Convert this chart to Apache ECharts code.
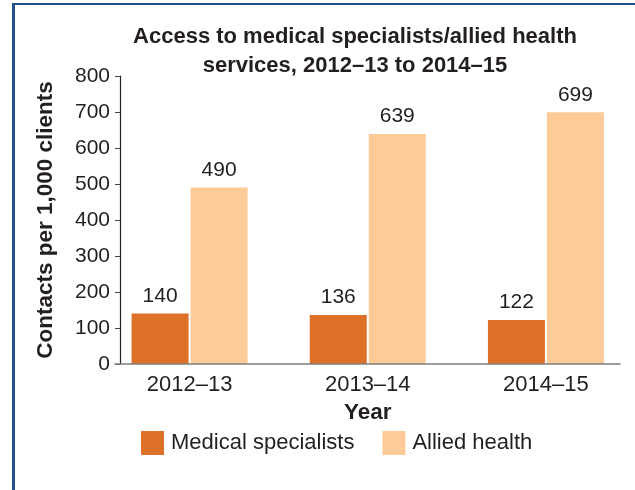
<!DOCTYPE html>
<html>
<head>
<meta charset="utf-8">
<script src="https://cdn.jsdelivr.net/npm/echarts@6/dist/echarts.min.js"></script>
<style>
  html, body { margin: 0; padding: 0; background: #ffffff; }
  #chart { width: 635px; height: 490px; }
</style>
</head>
<body>
<div id="chart"></div>
<script>
const years = ['2012–13', '2013–14', '2014–15'];
const medicalSpecialists = [140, 136, 122];
const alliedHealth = [490, 639, 699];
const yTicks = { min: 0, max: 800, interval: 100 };

const FONT = '"Liberation Sans", Arial, sans-serif';
const INK = '#231f20';
const DARK_ORANGE = '#dd7128';
const LIGHT_ORANGE = '#fdcb97';
const FRAME = '#24508c';

const chart = echarts.init(document.getElementById('chart'), null, { renderer: 'canvas' });

const valueLabel = {
  show: true,
  position: 'top',
  distance: 7,
  fontFamily: FONT,
  fontSize: 21,
  color: INK
};

chart.setOption({
  animation: false,
  backgroundColor: '#ffffff',
  title: {
    text: 'Access to medical specialists/allied health\nservices, 2012–13 to 2014–15',
    left: 355,
    top: 22,
    padding: 0,
    textAlign: 'center',
    textStyle: {
      fontFamily: FONT,
      fontSize: 22,
      fontWeight: 'bold',
      color: INK,
      lineHeight: 29
    }
  },
  legend: {
    left: 141,
    top: 431,
    itemWidth: 23,
    itemHeight: 24,
    itemGap: 28,
    icon: 'rect',
    padding: 0,
    itemStyle: { borderWidth: 0 },
    textStyle: {
      fontFamily: FONT,
      fontSize: 22,
      color: INK,
      padding: [0, 0, 0, 2]
    },
    data: ['Medical specialists', 'Allied health']
  },
  graphic: [
    {
      type: 'line',
      shape: { x1: 13.5, y1: 3, x2: 13.5, y2: 490 },
      style: { stroke: FRAME, lineWidth: 3 }
    },
    {
      type: 'line',
      shape: { x1: 12, y1: 4, x2: 635, y2: 4 },
      style: { stroke: FRAME, lineWidth: 2 }
    }
  ],
  grid: [
    { left: 100.5, width: 538.5, top: 76, height: 288 },
    { left: 115, right: 15, top: 76, height: 288 }
  ],
  xAxis: [
    {
      type: 'category',
      gridIndex: 0,
      data: years,
      axisLine: { show: false },
      axisTick: { show: false },
      axisLabel: {
        fontFamily: FONT,
        fontSize: 22,
        color: INK,
        margin: 10
      },
      name: 'Year',
      nameLocation: 'middle',
      nameGap: 37,
      nameTextStyle: {
        fontFamily: FONT,
        fontSize: 22.5,
        fontWeight: 'bold',
        color: INK
      }
    },
    {
      // baseline rule along the bottom of the plot
      type: 'value',
      gridIndex: 1,
      min: 0,
      max: 1,
      z: 5,
      axisLine: { show: true, lineStyle: { color: '#7f7f7f', width: 1.5 } },
      axisTick: { show: false },
      axisLabel: { show: false },
      splitLine: { show: false }
    }
  ],
  yAxis: [
    {
      type: 'value',
      gridIndex: 0,
      min: yTicks.min,
      max: yTicks.max,
      interval: yTicks.interval,
      offset: -19.5,
      axisLine: { show: true, lineStyle: { color: '#222222', width: 1.2 } },
      axisTick: { show: true, length: 5, lineStyle: { color: '#444444', width: 1 } },
      splitLine: { show: false },
      axisLabel: {
        fontFamily: FONT,
        fontSize: 21,
        color: INK,
        margin: 10
      },
      name: 'Contacts per 1,000 clients',
      nameLocation: 'middle',
      nameGap: 63,
      nameTextStyle: {
        fontFamily: FONT,
        fontSize: 22.5,
        fontWeight: 'bold',
        color: INK
      }
    },
    {
      type: 'value',
      gridIndex: 1,
      min: 0,
      max: 1,
      show: false
    }
  ],
  series: [
    {
      name: 'Medical specialists',
      type: 'bar',
      xAxisIndex: 0,
      yAxisIndex: 0,
      data: medicalSpecialists,
      barWidth: 57,
      barGap: '3.5%',
      itemStyle: { color: DARK_ORANGE },
      label: valueLabel
    },
    {
      name: 'Allied health',
      type: 'bar',
      xAxisIndex: 0,
      yAxisIndex: 0,
      data: alliedHealth,
      barWidth: 57,
      barGap: '3.5%',
      itemStyle: { color: LIGHT_ORANGE },
      label: valueLabel
    }
  ]
});
</script>
</body>
</html>
